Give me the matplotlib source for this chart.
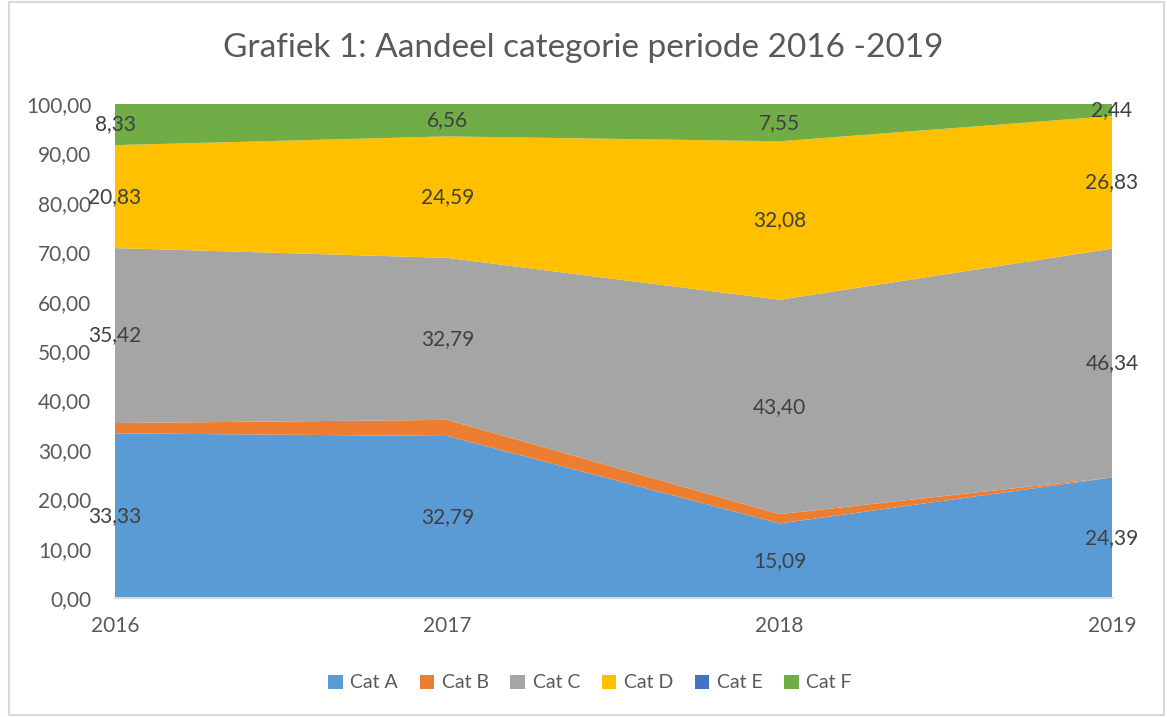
import numpy as np
import matplotlib.pyplot as plt
from matplotlib.patches import Rectangle

years = ['2016', '2017', '2018', '2019']
cat_a = [33.33, 32.79, 15.09, 24.39]
cat_b = [2.09, 3.27, 1.88, 0.00]
cat_c = [35.42, 32.79, 43.40, 46.34]
cat_d = [20.83, 24.59, 32.08, 26.83]
cat_e = [0.00, 0.00, 0.00, 0.00]
cat_f = [8.33, 6.56, 7.55, 2.44]
names = ['Cat A', 'Cat B', 'Cat C', 'Cat D', 'Cat E', 'Cat F']
colors = ['#5B9BD5', '#ED7D31', '#A5A5A5', '#FFC000', '#4472C4', '#70AD47']
labelled = [True, False, True, True, False, True]

plt.rcParams['font.family'] = ['Lato', 'DejaVu Sans']

fig = plt.figure(figsize=(11.67, 7.17), dpi=100)
ax = fig.add_axes([115 / 1167, 1 - 598 / 717, (1112 - 115) / 1167, (598 - 104) / 717])

x = np.arange(len(years))
series = [cat_a, cat_b, cat_c, cat_d, cat_e, cat_f]
ax.stackplot(x, *series, colors=colors, labels=names, linewidth=0)

bottom = np.zeros(len(years))
for vals, show in zip(series, labelled):
    vals = np.array(vals)
    if show:
        for xi, b, v in zip(x, bottom, vals):
            ax.text(xi, b + v / 2, f'{v:.2f}'.replace('.', ','), ha='center', va='center',
                    fontsize=15, color='#404040', zorder=5)
    bottom += vals

ax.set_xlim(0, 3)
ax.set_ylim(0, 100)
ax.set_yticks(np.arange(0, 101, 10))
ax.set_yticklabels([f'{v:.2f}'.replace('.', ',') for v in np.arange(0, 101, 10)])
ax.set_xticks(x)
ax.set_xticklabels(years)
ax.tick_params(axis='both', length=0, labelsize=15, colors='#595959')
ax.tick_params(axis='x', pad=13)
ax.tick_params(axis='y', pad=17)
for s in ['top', 'right', 'left']:
    ax.spines[s].set_visible(False)
ax.spines['bottom'].set_color('#D9D9D9')
ax.spines['bottom'].set_linewidth(1.5)

fig.suptitle('Grafiek 1: Aandeel categorie periode 2016 -2019', y=1 - 48 / 717, va='center',
             fontsize=24, color='#595959')

ax.legend(loc='center', bbox_to_anchor=(590 / 1167, 1 - 683 / 717), bbox_transform=fig.transFigure,
          ncol=6, frameon=False, fontsize=14, handlelength=0.75, handleheight=0.75,
          handletextpad=0.4, columnspacing=1.1, labelcolor='#595959')

fig.patches.append(Rectangle((9 / 1167, 2 / 717), 1155 / 1167, 713 / 717, transform=fig.transFigure,
                             fill=False, edgecolor='#D9D9D9', linewidth=1.5))

fig.savefig('out.png', dpi=100)
